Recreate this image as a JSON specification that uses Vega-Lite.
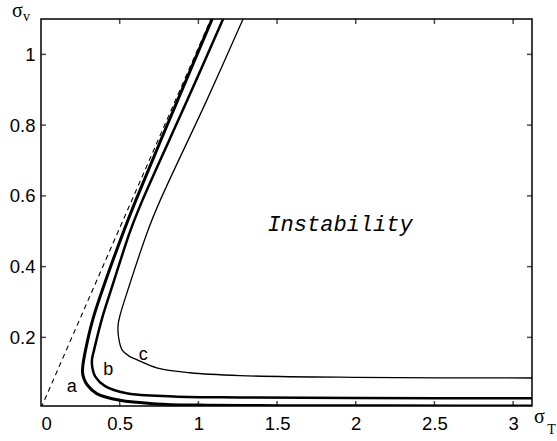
{
  "$schema": "https://vega.github.io/schema/vega-lite/v6.json",
  "width": 491,
  "height": 387,
  "autosize": {"type": "none"},
  "padding": {"left": 41, "top": 19, "right": 25, "bottom": 35},
  "background": "white",
  "config": {
    "view": {"stroke": "#000000", "strokeWidth": 1.5},
    "axis": {
      "grid": false,
      "domain": false,
      "ticks": true,
      "offset": -5,
      "tickSize": 5,
      "tickOpacity": 0,
      "labelFont": "Liberation Sans",
      "labelFontSize": 18.5,
      "labelColor": "black",
      "titleFont": "Liberation Serif",
      "titleFontWeight": "normal",
      "titleColor": "black",
      "titleAngle": 0,
      "titleAlign": "center",
      "titleBaseline": "alphabetic"
    }
  },
  "datasets": {
    "curves": [
      {"curve": "d", "i": 0, "x": 0, "y": 0},
      {"curve": "d", "i": 1, "x": 1.08, "y": 1.1},
      {"curve": "a", "i": 0, "x": 1.097, "y": 1.11},
      {"curve": "a", "i": 1, "x": 0.868, "y": 0.87},
      {"curve": "a", "i": 2, "x": 0.603, "y": 0.588},
      {"curve": "a", "i": 3, "x": 0.528, "y": 0.503},
      {"curve": "a", "i": 4, "x": 0.39, "y": 0.334},
      {"curve": "a", "i": 5, "x": 0.328, "y": 0.249},
      {"curve": "a", "i": 6, "x": 0.283, "y": 0.164},
      {"curve": "a", "i": 7, "x": 0.266, "y": 0.12},
      {"curve": "a", "i": 8, "x": 0.264, "y": 0.1},
      {"curve": "a", "i": 9, "x": 0.273, "y": 0.083},
      {"curve": "a", "i": 10, "x": 0.293, "y": 0.066},
      {"curve": "a", "i": 11, "x": 0.354, "y": 0.041},
      {"curve": "a", "i": 12, "x": 0.502, "y": 0.022},
      {"curve": "a", "i": 13, "x": 0.735, "y": 0.012},
      {"curve": "a", "i": 14, "x": 1.0, "y": 0.0085},
      {"curve": "a", "i": 15, "x": 1.5, "y": 0.007},
      {"curve": "a", "i": 16, "x": 2.2, "y": 0.0065},
      {"curve": "a", "i": 17, "x": 3.2, "y": 0.006},
      {"curve": "b", "i": 0, "x": 1.167, "y": 1.11},
      {"curve": "b", "i": 1, "x": 0.929, "y": 0.87},
      {"curve": "b", "i": 2, "x": 0.645, "y": 0.588},
      {"curve": "b", "i": 3, "x": 0.569, "y": 0.503},
      {"curve": "b", "i": 4, "x": 0.445, "y": 0.334},
      {"curve": "b", "i": 5, "x": 0.385, "y": 0.249},
      {"curve": "b", "i": 6, "x": 0.337, "y": 0.164},
      {"curve": "b", "i": 7, "x": 0.324, "y": 0.137},
      {"curve": "b", "i": 8, "x": 0.327, "y": 0.113},
      {"curve": "b", "i": 9, "x": 0.345, "y": 0.089},
      {"curve": "b", "i": 10, "x": 0.407, "y": 0.062},
      {"curve": "b", "i": 11, "x": 0.544, "y": 0.042},
      {"curve": "b", "i": 12, "x": 0.841, "y": 0.033},
      {"curve": "b", "i": 13, "x": 1.264, "y": 0.03},
      {"curve": "b", "i": 14, "x": 2.0, "y": 0.0285},
      {"curve": "b", "i": 15, "x": 3.2, "y": 0.028},
      {"curve": "c", "i": 0, "x": 1.294, "y": 1.11},
      {"curve": "c", "i": 1, "x": 1.053, "y": 0.87},
      {"curve": "c", "i": 2, "x": 0.758, "y": 0.588},
      {"curve": "c", "i": 3, "x": 0.68, "y": 0.503},
      {"curve": "c", "i": 4, "x": 0.552, "y": 0.334},
      {"curve": "c", "i": 5, "x": 0.502, "y": 0.262},
      {"curve": "c", "i": 6, "x": 0.49, "y": 0.235},
      {"curve": "c", "i": 7, "x": 0.493, "y": 0.2},
      {"curve": "c", "i": 8, "x": 0.516, "y": 0.164},
      {"curve": "c", "i": 9, "x": 0.56, "y": 0.147},
      {"curve": "c", "i": 10, "x": 0.608, "y": 0.137},
      {"curve": "c", "i": 11, "x": 0.735, "y": 0.114},
      {"curve": "c", "i": 12, "x": 0.947, "y": 0.1},
      {"curve": "c", "i": 13, "x": 1.264, "y": 0.092},
      {"curve": "c", "i": 14, "x": 2.0, "y": 0.087},
      {"curve": "c", "i": 15, "x": 3.2, "y": 0.085}
    ],
    "xticks": [{"v": 0.5}, {"v": 1}, {"v": 1.5}, {"v": 2}, {"v": 2.5}, {"v": 3}],
    "yticks": [{"v": 0.2}, {"v": 0.4}, {"v": 0.6}, {"v": 0.8}, {"v": 1}],
    "labels": [
      {"label": "a", "x": 0.195, "y": 0.06},
      {"label": "b", "x": 0.428, "y": 0.108},
      {"label": "c", "x": 0.65, "y": 0.15}
    ],
    "region": [
      {"label": "Instability", "x": 1.9, "y": 0.52}
    ]
  },
  "layer": [
    {
      "data": {"name": "curves"},
      "transform": [{"filter": "datum.curve === 'd'"}],
      "mark": {"type": "line", "color": "black", "strokeWidth": 1.1, "strokeDash": [5, 4], "clip": true},
      "encoding": {
        "x": {"field": "x", "type": "quantitative", "scale": {"domain": [0, 3.12], "nice": false, "zero": false},
          "axis": {"orient": "bottom", "values": [0, 0.5, 1, 1.5, 2, 2.5, 3], "format": "~g", "labelPadding": 8,
            "title": "σ", "titleFontSize": 20, "titleX": 498, "titleY": 21}},
        "y": {"field": "y", "type": "quantitative", "scale": {"domain": [0.006, 1.1], "nice": false, "zero": false},
          "axis": {"orient": "left", "values": [0.2, 0.4, 0.6, 0.8, 1], "format": "~g", "labelPadding": 6,
            "title": "σ", "titleFontSize": 20, "titleX": -29, "titleY": -3}},
        "order": {"field": "i", "type": "quantitative"}
      }
    },
    {
      "data": {"name": "curves"},
      "transform": [{"filter": "datum.curve === 'a'"}],
      "mark": {"type": "line", "color": "black", "strokeWidth": 3, "interpolate": "catmull-rom", "clip": true},
      "encoding": {
        "x": {"field": "x", "type": "quantitative", "scale": {"domain": [0, 3.12], "nice": false, "zero": false},
          "axis": {"orient": "top", "values": [0, 0.5, 1, 1.5, 2, 2.5, 3], "labels": false,
            "title": "v", "titleFontSize": 14, "titleX": -15, "titleY": -4}},
        "y": {"field": "y", "type": "quantitative", "scale": {"domain": [0.006, 1.1], "nice": false, "zero": false},
          "axis": {"orient": "right", "values": [0.2, 0.4, 0.6, 0.8, 1], "labels": false,
            "title": "T", "titleFontSize": 14, "titleX": 24, "titleY": 414}},
        "order": {"field": "i", "type": "quantitative"}
      }
    },
    {
      "data": {"name": "xticks"},
      "mark": {"type": "tick", "color": "black", "thickness": 1.5, "size": 5, "orient": "vertical", "yOffset": -2.5},
      "encoding": {
        "x": {"field": "v", "type": "quantitative", "scale": {"domain": [0, 3.12], "nice": false, "zero": false}, "axis": null},
        "y": {"datum": 0.006, "type": "quantitative", "scale": {"domain": [0.006, 1.1], "nice": false, "zero": false}, "axis": null}
      }
    },
    {
      "data": {"name": "xticks"},
      "mark": {"type": "tick", "color": "black", "thickness": 1.5, "size": 5, "orient": "vertical", "yOffset": 2.5},
      "encoding": {
        "x": {"field": "v", "type": "quantitative", "scale": {"domain": [0, 3.12], "nice": false, "zero": false}, "axis": null},
        "y": {"datum": 1.1, "type": "quantitative", "scale": {"domain": [0.006, 1.1], "nice": false, "zero": false}, "axis": null}
      }
    },
    {
      "data": {"name": "yticks"},
      "mark": {"type": "tick", "color": "black", "thickness": 1.5, "size": 5, "orient": "horizontal", "xOffset": 2.5},
      "encoding": {
        "y": {"field": "v", "type": "quantitative", "scale": {"domain": [0.006, 1.1], "nice": false, "zero": false}, "axis": null},
        "x": {"datum": 0, "type": "quantitative", "scale": {"domain": [0, 3.12], "nice": false, "zero": false}, "axis": null}
      }
    },
    {
      "data": {"name": "yticks"},
      "mark": {"type": "tick", "color": "black", "thickness": 1.5, "size": 5, "orient": "horizontal", "xOffset": -2.5},
      "encoding": {
        "y": {"field": "v", "type": "quantitative", "scale": {"domain": [0.006, 1.1], "nice": false, "zero": false}, "axis": null},
        "x": {"datum": 3.12, "type": "quantitative", "scale": {"domain": [0, 3.12], "nice": false, "zero": false}, "axis": null}
      }
    },
    {
      "data": {"name": "curves"},
      "transform": [{"filter": "datum.curve === 'b'"}],
      "mark": {"type": "line", "color": "black", "strokeWidth": 2.5, "interpolate": "catmull-rom", "clip": true},
      "encoding": {
        "x": {"field": "x", "type": "quantitative", "scale": {"domain": [0, 3.12], "nice": false, "zero": false}, "axis": null},
        "y": {"field": "y", "type": "quantitative", "scale": {"domain": [0.006, 1.1], "nice": false, "zero": false}, "axis": null},
        "order": {"field": "i", "type": "quantitative"}
      }
    },
    {
      "data": {"name": "curves"},
      "transform": [{"filter": "datum.curve === 'c'"}],
      "mark": {"type": "line", "color": "black", "strokeWidth": 1.3, "interpolate": "catmull-rom", "clip": true},
      "encoding": {
        "x": {"field": "x", "type": "quantitative", "scale": {"domain": [0, 3.12], "nice": false, "zero": false}, "axis": null},
        "y": {"field": "y", "type": "quantitative", "scale": {"domain": [0.006, 1.1], "nice": false, "zero": false}, "axis": null},
        "order": {"field": "i", "type": "quantitative"}
      }
    },
    {
      "data": {"name": "labels"},
      "mark": {"type": "text", "font": "Liberation Sans", "fontSize": 18, "color": "black", "align": "center", "baseline": "middle"},
      "encoding": {
        "x": {"field": "x", "type": "quantitative", "scale": {"domain": [0, 3.12], "nice": false, "zero": false}, "axis": null},
        "y": {"field": "y", "type": "quantitative", "scale": {"domain": [0.006, 1.1], "nice": false, "zero": false}, "axis": null},
        "text": {"field": "label"}
      }
    },
    {
      "data": {"name": "region"},
      "mark": {"type": "text", "font": "Liberation Mono", "fontStyle": "italic", "fontSize": 22, "color": "black", "align": "center", "baseline": "middle"},
      "encoding": {
        "x": {"field": "x", "type": "quantitative", "scale": {"domain": [0, 3.12], "nice": false, "zero": false}, "axis": null},
        "y": {"field": "y", "type": "quantitative", "scale": {"domain": [0.006, 1.1], "nice": false, "zero": false}, "axis": null},
        "text": {"field": "label"}
      }
    }
  ],
  "resolve": {"axis": {"x": "independent", "y": "independent"}}
}
